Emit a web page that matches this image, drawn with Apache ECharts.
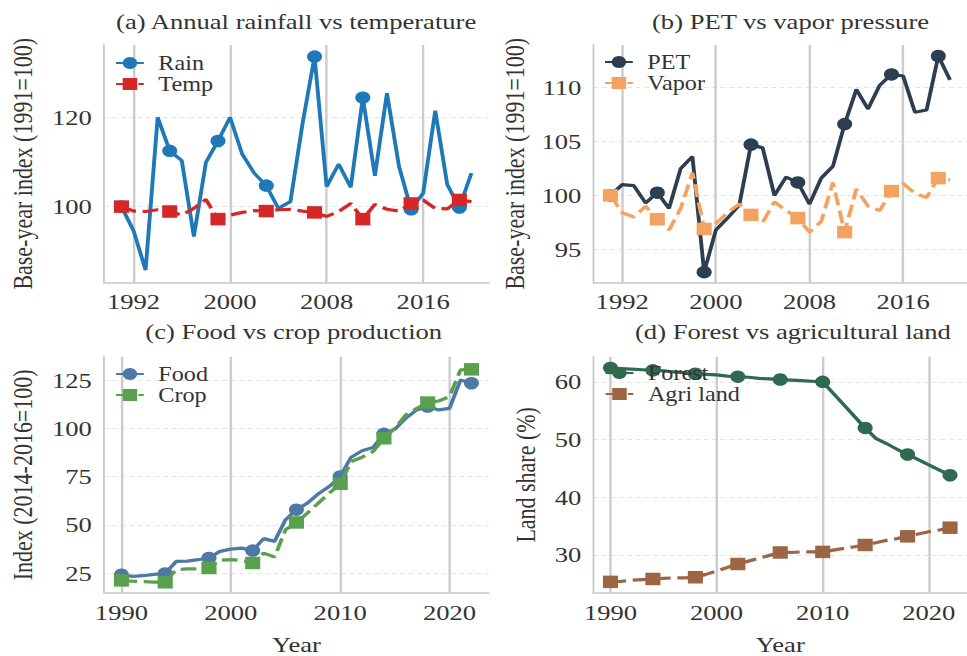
<!DOCTYPE html>
<html>
<head>
<meta charset="utf-8">
<script src="https://cdn.jsdelivr.net/npm/echarts@6/dist/echarts.min.js"></script>
<style>
html,body{margin:0;padding:0;background:#fff;}
#wrap{width:967px;height:656px;overflow:hidden;position:relative;background:#fff;}
#chart{width:800px;height:656px;transform:scaleX(1.20875);transform-origin:0 0;}
</style>
</head>
<body>
<div id="wrap"><div id="chart"></div></div>
<script>
// ---- data ----
const yearsTop = [1991,1992,1993,1994,1995,1996,1997,1998,1999,2000,2001,2002,2003,2004,2005,2006,2007,2008,2009,2010,2011,2012,2013,2014,2015,2016,2017,2018,2019,2020];
const rain  = [100,94.6,85.8,120,112.5,110.3,93.3,109.9,114.7,120,111.8,107.5,104.7,99.6,101.1,118.5,133.6,104.5,109.5,104.3,124.4,106.9,125.4,109,99.4,103,121.5,104.9,99.8,107.5];
const temp  = [100,99,98.9,99.3,98.9,98.1,99.6,101.6,97.2,98.1,98.7,99.1,99,99.3,99.4,99,98.7,97.8,98.9,100.7,97.2,100.5,99.4,99,100.7,101.5,99.6,99.5,101.5,101.1];
const pet   = [100,101,100.9,99.3,100.25,98.8,102.5,103.6,92.9,96.8,97.9,99.1,104.7,104.4,100,101.7,101.2,99.2,101.6,102.7,106.6,109.8,108,110.2,111.2,111.05,107.7,107.9,112.9,110.7];
const vapor = [100,98.4,98,99,97.8,96.8,98.8,102.1,96.9,97.4,98.4,99.2,98.2,97.5,99.4,98.6,97.9,96.6,97.6,101.2,96.6,100.6,99,98.6,100.4,101.1,100.2,99.8,101.6,101.45];

const yearsBot = [1990,1991,1992,1993,1994,1995,1996,1997,1998,1999,2000,2001,2002,2003,2004,2005,2006,2007,2008,2009,2010,2011,2012,2013,2014,2015,2016,2017,2018,2019,2020,2021,2022];
const food   = [24.1,23.3,23.6,24.3,24.8,31,31.2,31.9,32.8,36.2,37.4,37.9,36.6,42.8,41.4,52.6,57.8,61.2,66,69.8,75,85,88.3,90,97.1,99.5,105.2,109.5,111.2,109.5,110.3,125,123.3];
const crop   = [21.2,20.8,20.5,20.3,20.2,26.7,27.1,27.2,27.6,31.6,31.9,31.6,30.2,35.3,33.3,47.4,51.2,56,61.2,66.4,71.2,82.8,85,87.9,94.8,100,106.9,110.3,113.3,114.1,116.4,130.2,130.5];
const forest = [62.4,62.3,62.2,62.1,62.0,61.9,61.7,61.6,61.4,61.3,61.2,61.0,60.9,60.8,60.6,60.5,60.4,60.3,60.2,60.1,60.0,58.0,56.0,54.0,52.0,50.2,49.3,48.3,47.4,46.5,45.6,44.7,43.8];
const agri   = [25.3,25.4,25.6,25.7,25.8,25.9,26.0,26.0,26.1,26.6,27.2,27.8,28.4,28.9,29.4,29.9,30.4,30.4,30.5,30.5,30.5,30.8,31.1,31.4,31.7,32.1,32.5,32.8,33.2,33.6,34.0,34.3,34.7];

const xTicksTop = [1992,2000,2008,2016];
const xTicksBot = [1990,2000,2010,2020];
const yTicksA = [100,120];
const yTicksB = [95,100,105,110];
const yTicksC = [25,50,75,100,125];
const yTicksD = [30,40,50,60];

const titles = ['(a) Annual rainfall vs temperature','(b) PET vs vapor pressure','(c) Food vs crop production','(d) Forest vs agricultural land'];

// ---- styling ----
const FONT = '"Liberation Serif","Times New Roman",serif';
const TXT = '#333333';
const pairs = (xs, ys) => xs.map((x, i) => [x, ys[i]]);
const markEvery = (v, p) => (p.dataIndex % 4 === 0 ? 12.5 : 0);

function xAxis(grid, min, max, ticks, name) {
  return {
    type: 'value', gridIndex: grid, min: min, max: max,
    name: name || '', nameLocation: 'middle', nameGap: 40,
    nameTextStyle: {fontFamily: FONT, fontSize: 22, color: TXT},
    axisLine: {show: true, onZero: false, lineStyle: {color: '#c8c8c8', width: 1.5}},
    axisTick: {show: false, customValues: ticks},
    axisLabel: {customValues: ticks, fontFamily: FONT, fontSize: 22, color: TXT, margin: 8, formatter: v => String(v)},
    splitLine: {show: true, lineStyle: {color: '#cccccc', width: 2}}
  };
}
function yAxis(grid, min, max, ticks, name, gap) {
  return {
    type: 'value', gridIndex: grid, min: min, max: max,
    name: name, nameLocation: 'middle', nameGap: gap, nameRotate: 90,
    nameTextStyle: {fontFamily: FONT, fontSize: 22, color: TXT},
    axisLine: {show: true, lineStyle: {color: '#c8c8c8', width: 1.5}},
    axisTick: {show: false, customValues: ticks},
    axisLabel: {customValues: ticks, fontFamily: FONT, fontSize: 22, color: TXT, margin: 10, formatter: v => String(v)},
    splitLine: {show: true, lineStyle: {color: '#e4e4e4', width: 1, type: [4, 3]}}
  };
}
function line(name, idx, data, color, dashed) {
  return {
    name: name, type: 'line', xAxisIndex: idx, yAxisIndex: idx, data: data,
    symbol: dashed ? 'rect' : 'circle', symbolSize: markEvery, showSymbol: true,
    lineStyle: {color: color, width: 3.2, type: dashed ? [13, 5.5] : 'solid'},
    itemStyle: {color: color}, emphasis: {disabled: true}, z: dashed ? 3 : 2
  };
}
function legend(names, left, top) {
  return {
    data: names, left: left, top: top, orient: 'vertical', padding: 0,
    itemWidth: 23, itemHeight: 15, itemGap: 1, selectedMode: false,
    textStyle: {fontFamily: FONT, fontSize: 20, color: TXT, padding: [0, 0, 0, 7]}
  };
}
function title(text, cx, top) {
  return {text: text, left: cx, top: top, textAlign: 'center', padding: 0,
    textStyle: {fontFamily: FONT, fontSize: 22, fontWeight: 'normal', color: TXT}};
}

const chart = echarts.init(document.getElementById('chart'), null, {renderer: 'svg', width: 800, height: 656});
chart.setOption({
  animation: false,
  backgroundColor: '#ffffff',
  title: [title(titles[0], 245, 10), title(titles[1], 654, 10), title(titles[2], 243, 320), title(titles[3], 656, 320)],
  grid: [
    {left: 86, top: 45, width: 318.5, height: 237.5},
    {left: 491, top: 45, width: 318.5, height: 237.5},
    {left: 86, top: 356.7, width: 318.5, height: 236.6},
    {left: 491, top: 356.7, width: 318.5, height: 236.6}
  ],
  xAxis: [
    xAxis(0, 1989.55, 2021.45, xTicksTop),
    xAxis(1, 1989.55, 2021.45, xTicksTop),
    xAxis(2, 1988.4, 2023.6, xTicksBot, 'Year'),
    xAxis(3, 1988.4, 2023.6, xTicksBot, 'Year')
  ],
  yAxis: [
    yAxis(0, 83.0, 136.2, yTicksA, 'Base-year index (1991=100)', 56),
    yAxis(1, 91.94, 113.92, yTicksB, 'Base-year index (1991=100)', 54),
    yAxis(2, 14.65, 137.05, yTicksC, 'Index (2014-2016=100)', 56),
    yAxis(3, 23.37, 64.36, yTicksD, 'Land share (%)', 45)
  ],
  legend: [
    legend(['Rain', 'Temp'], 95, 53),
    legend(['PET', 'Vapor'], 499.5, 52),
    legend(['Food', 'Crop'], 95, 364),
    legend(['Forest', 'Agri land'], 500, 363)
  ],
  series: [
    line('Rain', 0, pairs(yearsTop, rain), '#1f78b8', false),
    line('Temp', 0, pairs(yearsTop, temp), '#d62728', true),
    line('PET', 1, pairs(yearsTop, pet), '#2c3e50', false),
    line('Vapor', 1, pairs(yearsTop, vapor), '#f4a261', true),
    line('Food', 2, pairs(yearsBot, food), '#4e79a7', false),
    line('Crop', 2, pairs(yearsBot, crop), '#59a14f', true),
    line('Forest', 3, pairs(yearsBot, forest), '#2d6a4f', false),
    line('Agri land', 3, pairs(yearsBot, agri), '#9c6644', true)
  ]
});
</script>
</body>
</html>
